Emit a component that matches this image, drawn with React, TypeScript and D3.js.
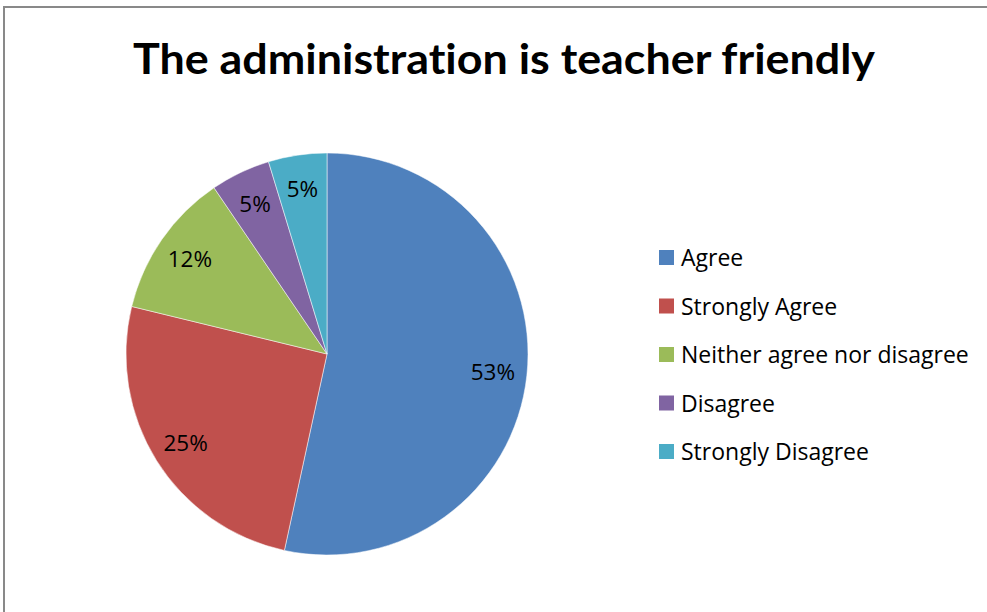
import React from "react";
import * as d3 from "d3";

const title = "The administration is teacher friendly";
const categories = ["Agree", "Strongly Agree", "Neither agree nor disagree", "Disagree", "Strongly Disagree"];
const values = [53.4, 25.4, 11.7, 4.8, 4.7];
const colors = ["#4F81BD", "#C0504D", "#9BBB59", "#8064A2", "#4BACC6"];

const W = 987;
const H = 612;

export default function App() {
  const cx = 327;
  const cy = 354;
  const r = 201;
  const total = d3.sum(values);
  const pie = d3.pie<number>().sort(null).value((d) => d);
  const arcs = pie(values);
  const arc = d3.arc<d3.PieArcDatum<number>>().innerRadius(0).outerRadius(r);
  const labelArc = d3.arc<d3.PieArcDatum<number>>().innerRadius(r * 0.83).outerRadius(r * 0.83);

  const legendX = 659;
  const legendY0 = 258;
  const legendStep = 48.5;
  const font = "'Open Sans', Lato, sans-serif";

  return (
    <svg
      width={W}
      height={H}
      style={{ position: "absolute", left: 0, top: 0, display: "block", background: "#fff" }}
    >
      <rect x={0} y={0} width={W} height={H} fill="#fff" />
      <rect x={4} y={7} width={W + 10} height={H + 10} fill="none" stroke="#898989" strokeWidth={2} />
      <text
        x={504}
        y={73.5}
        textAnchor="middle"
        fontFamily="Lato, 'Open Sans', sans-serif"
        fontWeight="bold"
        fontSize={42}
        fill="#000"
        textLength={742}
        lengthAdjust="spacingAndGlyphs"
        style={{ fontVariantLigatures: "none", fontFeatureSettings: "'liga' 0, 'clig' 0" }}
      >
        {title}
      </text>
      <g transform={`translate(${cx},${cy})`}>
        {arcs.map((a, i) => (
          <path key={i} d={arc(a) || ""} fill={colors[i]} stroke="#ffffff" strokeOpacity={0.5} strokeWidth={1} />
        ))}
        {arcs.map((a, i) => {
          const [lx, ly] = labelArc.centroid(a);
          return (
            <text
              key={"l" + i}
              x={lx}
              y={ly}
              dy="0.36em"
              textAnchor="middle"
              fontFamily={font}
              fontSize={22.5}
              fill="#000"
            >
              {Math.round((values[i] / total) * 100) + "%"}
            </text>
          );
        })}
      </g>
      <g>
        {categories.map((c, i) => (
          <g key={c} transform={`translate(${legendX},${legendY0 + i * legendStep})`}>
            <rect x={0} y={-8} width={15} height={15} fill={colors[i]} />
            <text
              x={22}
              y={0}
              dy="0.36em"
              fontFamily={font}
              fontSize={23}
              fill="#000"
            >
              {c}
            </text>
          </g>
        ))}
      </g>
    </svg>
  );
}
